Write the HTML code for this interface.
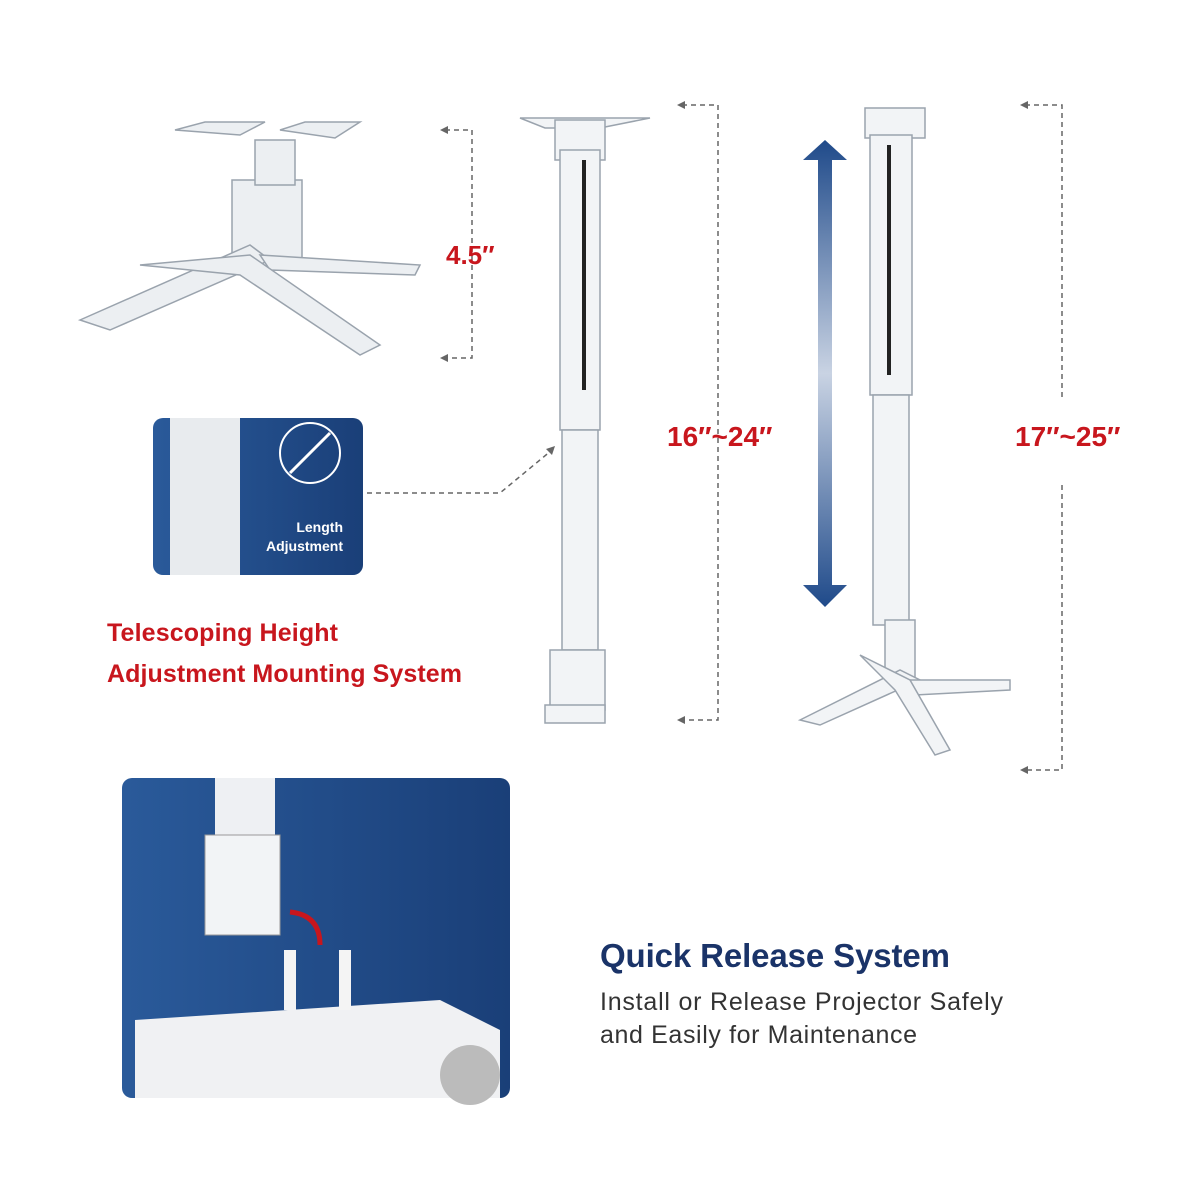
<!DOCTYPE html>
<html><head><style>
body{margin:0;background:#fff;}
svg{display:block}
text{font-family:"Liberation Sans",sans-serif;}
</style></head><body>
<svg width="1200" height="1200" viewBox="0 0 1200 1200">
<defs>
<linearGradient id="bp" x1="0" x2="1"><stop offset="0" stop-color="#2a5a9a"/><stop offset="1" stop-color="#1a3f78"/></linearGradient>
<linearGradient id="ar" y1="0" y2="1" x1="0" x2="0"><stop offset="0" stop-color="#1f4a8a"/><stop offset="0.5" stop-color="#c9d3e3"/><stop offset="1" stop-color="#1f4a8a"/></linearGradient>
</defs>
<rect width="1200" height="1200" fill="#fff"/>
<g fill="none" stroke="#666" stroke-width="1.5" stroke-dasharray="5,4">
<path d="M445 130H472V358H445"/>
<path d="M682 105H718V720H682"/>
<path d="M1025 105H1062V400M1062 485V770H1025"/>
<path d="M367 493H500L552 450"/>
</g>
<g fill="#666">
<path d="M440 130l8-4v8z"/><path d="M440 358l8-4v8z"/>
<path d="M677 105l8-4v8z"/><path d="M677 720l8-4v8z"/>
<path d="M1020 105l8-4v8z"/><path d="M1020 770l8-4v8z"/>
<path d="M555 446l-3 9-6-6z"/>
</g>
<g fill="#eceff2" stroke="#9aa3ad" stroke-width="1.5">
<path d="M175 130L205 122H265L240 135Z"/><path d="M280 130L305 122H360L335 138Z"/>
<rect x="232" y="180" width="70" height="90"/>
<path d="M80 320L250 245L270 260L110 330Z"/><path d="M260 255L420 265L415 275L270 270Z"/>
<path d="M140 265L250 255L380 345L360 355L240 275Z"/>
<rect x="255" y="140" width="40" height="45"/>
</g>
<text x="446" y="264" font-size="26" font-weight="bold" fill="#c8161d">4.5″</text>
<g fill="#f2f4f6" stroke="#9aa3ad" stroke-width="1.5">
<path d="M520 118H650L600 128H545Z"/>
<rect x="555" y="120" width="50" height="40"/>
<rect x="560" y="150" width="40" height="280"/>
<rect x="562" y="430" width="36" height="220"/>
<rect x="550" y="650" width="55" height="60"/>
<rect x="545" y="705" width="60" height="18"/>
</g>
<rect x="582" y="160" width="4" height="230" fill="#222"/>
<g fill="#f2f4f6" stroke="#9aa3ad" stroke-width="1.5">
<rect x="865" y="108" width="60" height="30"/>
<rect x="870" y="135" width="42" height="260"/>
<rect x="873" y="395" width="36" height="230"/>
<rect x="885" y="620" width="30" height="60"/>
<path d="M800 720L900 670L920 680L820 725Z"/><path d="M910 680L1010 680L1010 690L915 695Z"/>
<path d="M860 655L910 680L950 750L935 755L895 690Z"/>
</g>
<rect x="887" y="145" width="4" height="230" fill="#222"/>
<path d="M825 140L847 160H832V585H847L825 607L803 585H818V160H803Z" fill="url(#ar)"/>
<text x="667" y="446" font-size="28" font-weight="bold" fill="#c8161d">16″~24″</text>
<text x="1015" y="446" font-size="28" font-weight="bold" fill="#c8161d">17″~25″</text>
<rect x="153" y="418" width="210" height="157" rx="10" fill="url(#bp)"/>
<rect x="170" y="418" width="70" height="157" fill="#e8ebee"/>
<circle cx="310" cy="453" r="30" fill="none" stroke="#fff" stroke-width="2"/>
<line x1="290" y1="473" x2="330" y2="433" stroke="#fff" stroke-width="3"/>
<text x="343" y="532" font-size="14" font-weight="bold" fill="#fff" text-anchor="end">Length</text>
<text x="343" y="551" font-size="14" font-weight="bold" fill="#fff" text-anchor="end">Adjustment</text>
<text x="107" y="641" font-size="25" font-weight="bold" fill="#c8161d" textLength="231">Telescoping Height</text>
<text x="107" y="682" font-size="25" font-weight="bold" fill="#c8161d" textLength="355">Adjustment Mounting System</text>
<rect x="122" y="778" width="388" height="320" rx="10" fill="url(#bp)"/>
<rect x="215" y="778" width="60" height="60" fill="#eef0f3"/>
<rect x="205" y="835" width="75" height="100" fill="#f2f4f6" stroke="#999"/>
<path d="M135 1020L440 1000L500 1030V1098H135Z" fill="#f0f1f3"/>
<circle cx="470" cy="1075" r="30" fill="#bbb"/>
<path d="M290 950V1010M345 950V1010" stroke="#f4f4f4" stroke-width="12"/>
<path d="M320 945Q320 915 290 912" fill="none" stroke="#c8161d" stroke-width="5"/>
<text x="600" y="967" font-size="33" font-weight="bold" fill="#1a3368" textLength="350">Quick Release System</text>
<text x="600" y="1010" font-size="25" fill="#333" textLength="403">Install or Release Projector Safely</text>
<text x="600" y="1043" font-size="25" fill="#333" textLength="317">and Easily for Maintenance</text>
</svg>
</body></html>
